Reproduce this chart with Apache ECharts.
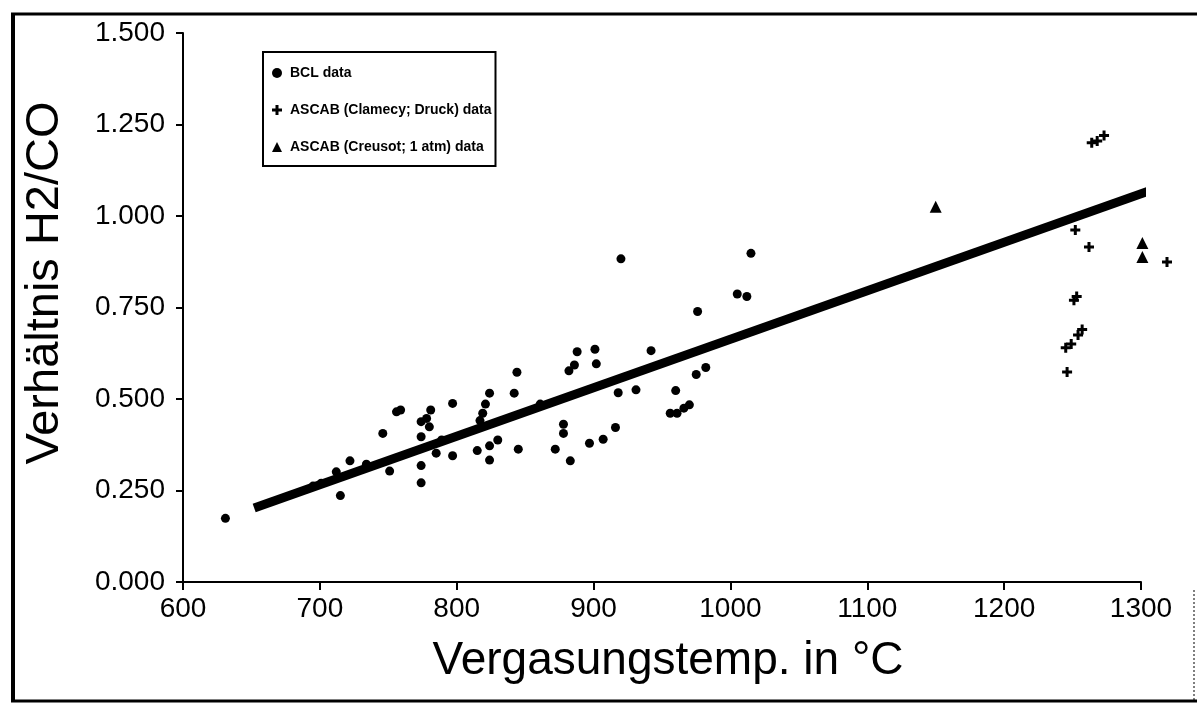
<!DOCTYPE html>
<html>
<head>
<meta charset="utf-8">
<script src="https://cdn.jsdelivr.net/npm/echarts@6/dist/echarts.min.js"></script>
<style>
html,body{margin:0;padding:0;background:#fff;}
#chart{width:1197px;height:713px;}
</style>
</head>
<body>
<div id="chart"></div>
<script>
// ---- data ----
const xTicks = [600, 700, 800, 900, 1000, 1100, 1200, 1300];
const yTicks = [0, 0.25, 0.5, 0.75, 1.0, 1.25, 1.5];

const bclTemp  = [631, 695, 701, 712, 715, 722, 734, 746, 751, 756, 759, 774, 774, 774, 774, 778, 780, 781, 785, 789, 797, 797, 815, 817, 819, 821, 824, 824, 824, 830, 842, 844, 845, 861, 872, 878, 878, 883, 882, 886, 888, 901, 902, 897, 907, 920, 916, 918, 931, 942, 960, 956, 961, 966, 970, 976, 975, 982, 1005, 1012, 1015];
const bclRatio = [0.174, 0.262, 0.270, 0.301, 0.236, 0.331, 0.322, 0.406, 0.303, 0.465, 0.470, 0.438, 0.397, 0.318, 0.271, 0.447, 0.424, 0.470, 0.352, 0.388, 0.488, 0.345, 0.359, 0.441, 0.461, 0.486, 0.516, 0.372, 0.333, 0.388, 0.516, 0.573, 0.363, 0.486, 0.363, 0.431, 0.406, 0.331, 0.577, 0.593, 0.629, 0.636, 0.596, 0.379, 0.390, 0.883, 0.422, 0.517, 0.525, 0.632, 0.523, 0.461, 0.461, 0.475, 0.484, 0.739, 0.567, 0.586, 0.787, 0.780, 0.898];

const clamecyTemp  = [1264, 1268, 1273, 1252, 1262, 1251, 1253, 1254, 1257, 1245, 1249, 1246, 1319];
const clamecyRatio = [1.200, 1.205, 1.220, 0.962, 0.915, 0.770, 0.780, 0.675, 0.690, 0.640, 0.650, 0.574, 0.874];

const creusotTemp  = [1150, 1301, 1301];
const creusotRatio = [1.025, 0.926, 0.888];

const fitTemp  = [652, 1310];
const fitRatio = [0.202, 1.074];

const zip = (a, b) => a.map((v, i) => [v, b[i]]);

const plusPath = 'path://M3.5,0 H6.5 V3.5 H10 V6.5 H6.5 V10 H3.5 V6.5 H0 V3.5 H3.5 Z';
const FONT = 'Liberation Sans, Arial, sans-serif';

const chart = echarts.init(document.getElementById('chart'), null, {renderer: 'canvas'});
chart.setOption({
  backgroundColor: '#fff',
  animation: false,
  grid: {left: 183, right: 56, top: 33, bottom: 131},
  xAxis: {
    type: 'value', min: xTicks[0], max: xTicks[xTicks.length - 1], interval: 100,
    axisLine: {lineStyle: {color: '#000', width: 2}},
    axisTick: {show: true, length: 8, inside: false, lineStyle: {color: '#000', width: 2}},
    axisLabel: {color: '#000', fontSize: 28, fontFamily: FONT, margin: 13,
      formatter: v => String(v)},
    splitLine: {show: false}
  },
  yAxis: {
    type: 'value', min: yTicks[0], max: yTicks[yTicks.length - 1], interval: 0.25,
    axisLine: {show: true, lineStyle: {color: '#000', width: 2}},
    axisTick: {show: true, length: 7, inside: false, lineStyle: {color: '#000', width: 2}},
    axisLabel: {color: '#000', fontSize: 28, fontFamily: FONT, margin: 18,
      formatter: v => v.toFixed(3)},
    splitLine: {show: false}
  },
  legend: {
    orient: 'vertical', left: 263, top: 52,
    padding: [14, 4, 12, 9],
    itemGap: 23, itemWidth: 10, itemHeight: 10,
    borderColor: '#000', borderWidth: 2,
    textStyle: {color: '#000', fontSize: 14, fontWeight: 'bold', fontFamily: FONT, padding: [0, 0, 0, 3]},
    data: [
      {name: 'BCL data', icon: 'circle'},
      {name: 'ASCAB (Clamecy; Druck) data', icon: plusPath},
      {name: 'ASCAB (Creusot; 1 atm) data', icon: 'triangle'}
    ]
  },
  series: [
    {
      name: 'Regression', type: 'line', data: zip(fitTemp, fitRatio),
      showSymbol: false, symbol: 'none', clip: false,
      lineStyle: {color: '#000', width: 9}, z: 3
    },
    {
      name: 'BCL data', type: 'scatter', data: zip(bclTemp, bclRatio),
      symbol: 'circle', symbolSize: 9, clip: false,
      itemStyle: {color: '#000', opacity: 1}
    },
    {
      name: 'ASCAB (Clamecy; Druck) data', type: 'scatter', data: zip(clamecyTemp, clamecyRatio),
      symbol: plusPath, symbolSize: 10, clip: false,
      itemStyle: {color: '#000', opacity: 1}
    },
    {
      name: 'ASCAB (Creusot; 1 atm) data', type: 'scatter', data: zip(creusotTemp, creusotRatio),
      symbol: 'triangle', symbolSize: 12, clip: false,
      itemStyle: {color: '#000', opacity: 1}
    }
  ],
  graphic: [
    {type: 'text', x: 668, y: 661, style: {text: 'Vergasungstemp. in °C', fill: '#000',
      font: '46px ' + FONT, textAlign: 'center', textVerticalAlign: 'middle'}},
    {type: 'text', x: 45, y: 283, rotation: Math.PI / 2, style: {text: 'Verhältnis H2/CO', fill: '#000',
      font: '47px ' + FONT, textAlign: 'center', textVerticalAlign: 'middle'}},
    {type: 'line', shape: {x1: 13, y1: 13, x2: 13, y2: 702}, style: {stroke: '#000', lineWidth: 4}},
    {type: 'line', shape: {x1: 11, y1: 14, x2: 1197, y2: 14}, style: {stroke: '#000', lineWidth: 3}},
    {type: 'line', shape: {x1: 11, y1: 701, x2: 1197, y2: 701}, style: {stroke: '#000', lineWidth: 3}},
    {type: 'line', shape: {x1: 1194, y1: 590, x2: 1194, y2: 700}, style: {stroke: '#000', lineWidth: 1, lineDash: [2, 2]}}
  ]
});
</script>
</body>
</html>
